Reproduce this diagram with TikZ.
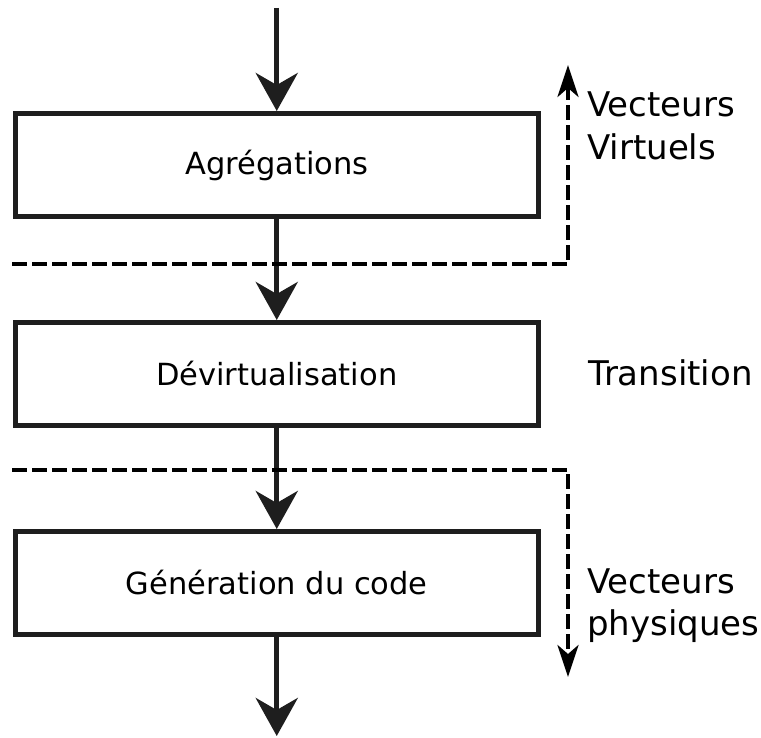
\documentclass[tikz,border=0pt]{standalone}
\usepackage{fontspec}
\setmainfont{DejaVu Sans}
\usetikzlibrary{arrows.meta}
\definecolor{ink}{HTML}{1E1E1E}
\begin{document}
\begin{tikzpicture}[x=1pt, y=-1pt,
  stage/.style={draw=ink, line width=5pt, minimum width=522.5pt, minimum height=103pt,
                inner sep=0pt, font=\fontsize{30.5}{36}\selectfont},
  flow/.style={draw=ink, line width=5pt,
               -{Stealth[length=38pt, width=42pt, inset=12pt]}},
  border/.style={draw=black, line width=3.5pt, dash pattern=on 15pt off 5pt,
                 -{Stealth[length=32pt, width=21pt, inset=9pt]}},
  side/.style={anchor=base west, inner sep=0pt, font=\fontsize{34}{40}\selectfont}]
  \useasboundingbox (0,0) rectangle (761,738);

  % processing stages
  \node[stage] (agg) at (276.75,165) {Agrégations};
  \node[stage] (dev) at (276.75,374) {Dévirtualisation};
  \node[stage] (gen) at (276.75,583) {Génération du code};

  \coordinate (in)  at (276.75,8);
  \coordinate (out) at (276.75,736);

  % main flow
  \draw[flow] (in) -- (agg.north);
  \draw[flow] (agg.south) -- (dev.north);
  \draw[flow] (dev.south) -- (gen.north);
  \draw[flow] (gen.south) -- (out);

  % domain boundaries
  \coordinate (b1l) at (12,264);
  \coordinate (b1r) at (568,264);
  \coordinate (b1t) at (568,65);
  \coordinate (b2l) at (12,470);
  \coordinate (b2r) at (568,470);
  \coordinate (b2b) at (568,677);
  \draw[border] (b1l) -- (b1r) -- (b1t);
  \draw[border] (b2l) -- (b2r) -- (b2b);

  % domain labels
  \node[side] (v1) at (587,117) {Vecteurs};
  \node[side] (v2) at (587,160) {Virtuels};
  \node[side] (tr) at (588,385) {Transition};
  \node[side] (p1) at (587,593) {Vecteurs};
  \node[side] (p2) at (587,635) {physiques};
\end{tikzpicture}
\end{document}
